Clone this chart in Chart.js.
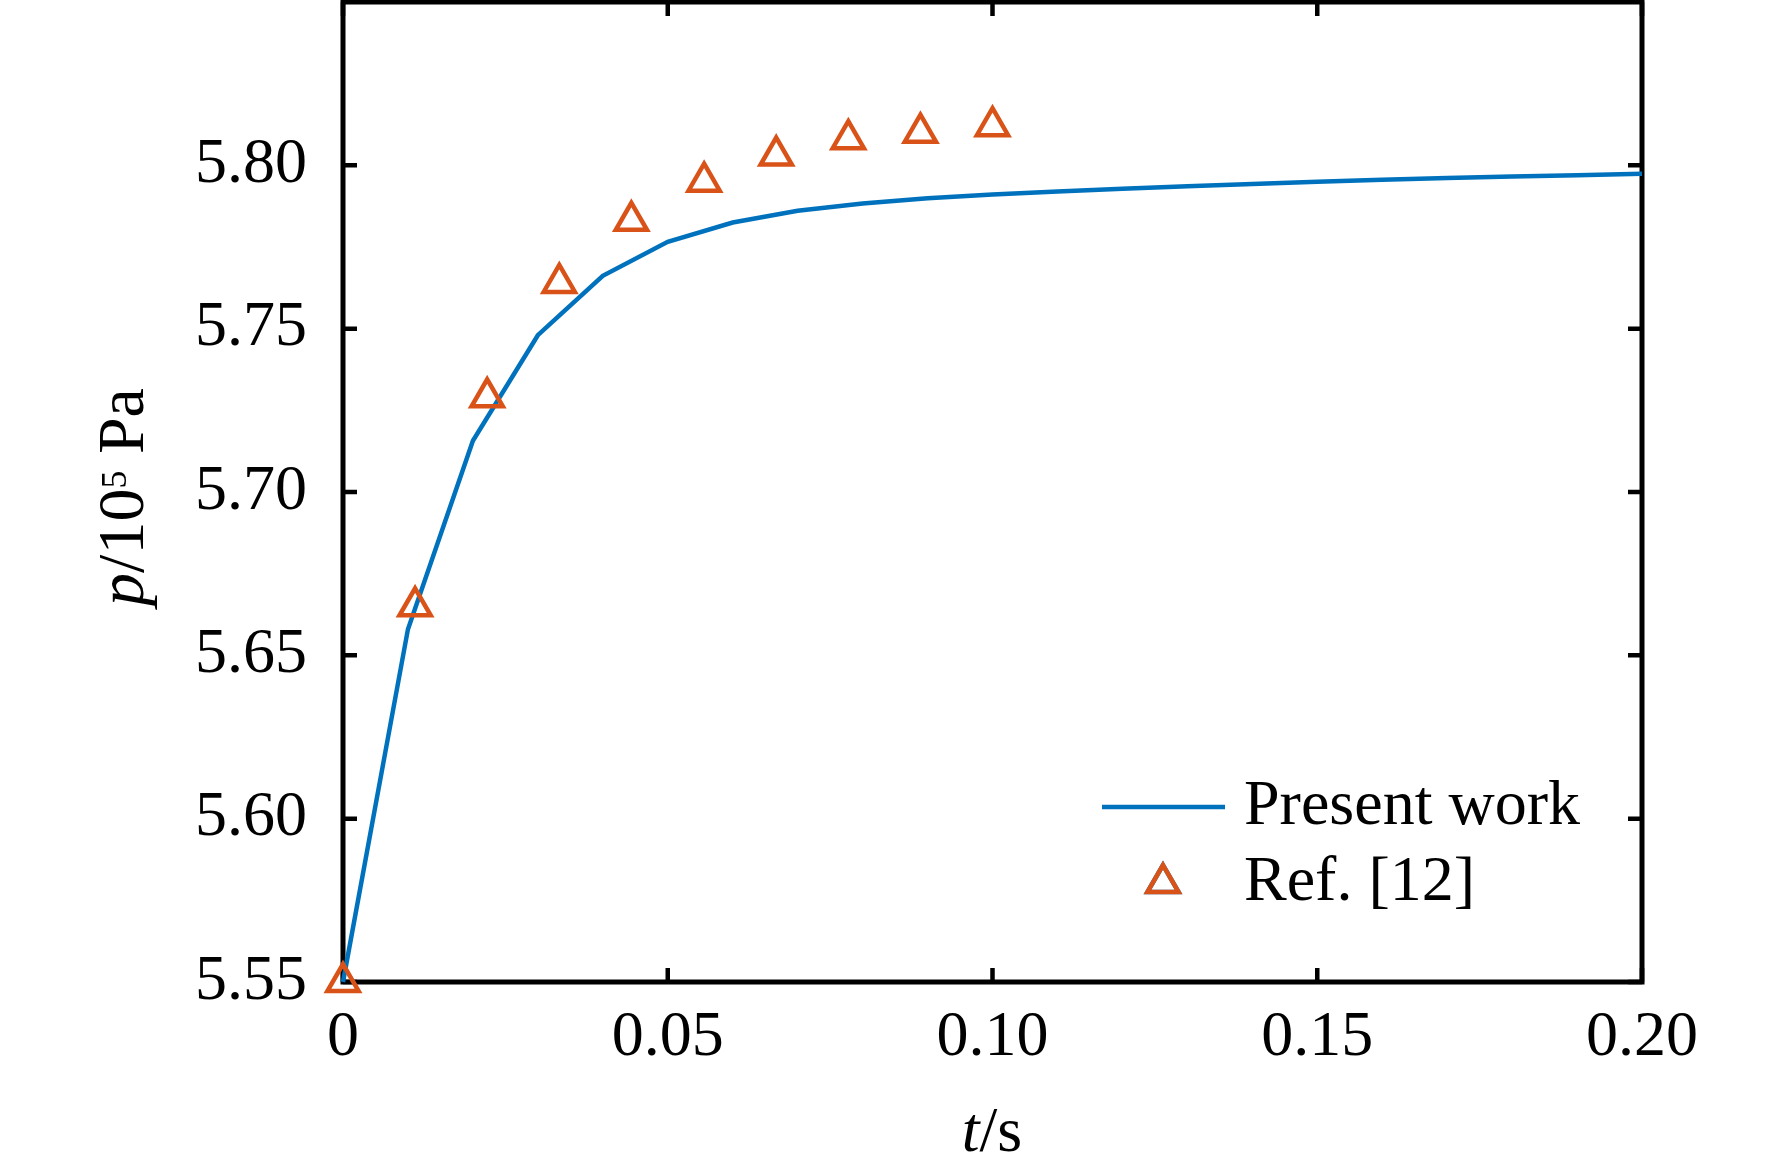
<!DOCTYPE html>
<html><head><meta charset="utf-8">
<script src="https://cdn.jsdelivr.net/npm/chart.js@4.4.0/dist/chart.umd.min.js"></script>
<style>html,body{margin:0;padding:0;background:#fff;overflow:hidden}</style>
</head><body>
<canvas id="c" width="1772" height="1171" style="width:1772px;height:1171px;display:block"></canvas>
<script>
// ---- data ----
const tPresent = [0, 0.01, 0.02, 0.03, 0.04, 0.05, 0.06, 0.07, 0.08, 0.09, 0.10,
                  0.11, 0.12, 0.13, 0.14, 0.15, 0.16, 0.17, 0.18, 0.19, 0.20];
const pPresent = [5.550, 5.658, 5.7157, 5.748, 5.7662, 5.7766, 5.7825, 5.7861, 5.7883, 5.7899, 5.7911,
                  5.7920, 5.7928, 5.7936, 5.7943, 5.7950, 5.7956, 5.7961, 5.7966, 5.7970, 5.7974];
const tRef = [0, 0.0111, 0.0222, 0.0333, 0.0444, 0.0556, 0.0667, 0.0778, 0.0889, 0.1000];
const pRef = [5.550, 5.665, 5.729, 5.764, 5.783, 5.795, 5.803, 5.808, 5.810, 5.812];
const xTickValues = [0, 0.05, 0.10, 0.15, 0.20];
const xTickLabels = ['0', '0.05', '0.10', '0.15', '0.20'];
const yTickValues = [5.55, 5.60, 5.65, 5.70, 5.75, 5.80];
const yTickLabels = ['5.55', '5.60', '5.65', '5.70', '5.75', '5.80'];
const seriesNames = ['Present work', 'Ref. [12]'];

const FONT = '"Liberation Serif", "Times New Roman", serif';
const BLUE = '#0072BD';
const ORANGE = '#D95319';

const framePlugin = {
  id: 'frame',
  beforeDatasetsDraw(chart) {
    const ctx = chart.ctx, a = chart.chartArea;
    const xs = chart.scales.x, ys = chart.scales.y;
    ctx.save();
    ctx.strokeStyle = '#000';
    ctx.lineWidth = 5;
    ctx.strokeRect(a.left, a.top, a.right - a.left, a.bottom - a.top);
    ctx.lineWidth = 4.5;
    const TL = 14;
    ctx.beginPath();
    xTickValues.forEach(v => {
      const px = xs.getPixelForValue(v);
      ctx.moveTo(px, a.bottom); ctx.lineTo(px, a.bottom - TL);
      ctx.moveTo(px, a.top); ctx.lineTo(px, a.top + TL);
    });
    yTickValues.forEach(v => {
      const py = ys.getPixelForValue(v);
      ctx.moveTo(a.left, py); ctx.lineTo(a.left + TL, py);
      ctx.moveTo(a.right, py); ctx.lineTo(a.right - TL, py);
    });
    ctx.stroke();
    ctx.restore();
  },
  afterDraw(chart) {
    const ctx = chart.ctx;
    ctx.save();
    ctx.fillStyle = '#000';
    ctx.textBaseline = 'alphabetic';
    // x title: t/s
    const fx = 64;
    const seg1 = [{t: 't', f: 'italic ' + fx + 'px ' + FONT}, {t: '/s', f: fx + 'px ' + FONT}];
    let w = 0;
    seg1.forEach(s => { ctx.font = s.f; s.w = ctx.measureText(s.t).width; w += s.w; });
    let x = 992 - w / 2;
    seg1.forEach(s => { ctx.font = s.f; ctx.fillText(s.t, x, 1151); x += s.w; });
    // y title: p/10^5 Pa (rotated)
    const fy = 66;
    const seg2 = [
      {t: 'p', f: 'italic ' + fy + 'px ' + FONT, dy: 0},
      {t: '/10', f: fy + 'px ' + FONT, dy: 0},
      {t: '5', f: '36px ' + FONT, dy: -17},
      {t: ' Pa', f: fy + 'px ' + FONT, dy: 0}
    ];
    w = 0;
    seg2.forEach(s => { ctx.font = s.f; s.w = ctx.measureText(s.t).width; w += s.w; });
    ctx.translate(143, 497);
    ctx.rotate(-Math.PI / 2);
    x = -w / 2;
    seg2.forEach(s => { ctx.font = s.f; ctx.fillText(s.t, x, s.dy); x += s.w; });
    ctx.restore();

    // legend
    ctx.save();
    const dsLine = chart.data.datasets[1], dsRef = chart.data.datasets[0];
    ctx.strokeStyle = dsLine.borderColor;
    ctx.lineWidth = dsLine.borderWidth;
    ctx.beginPath(); ctx.moveTo(1102, 807); ctx.lineTo(1225, 807); ctx.stroke();
    Chart.helpers.drawPoint(ctx, {pointStyle: 'triangle', radius: dsRef.pointRadius, borderWidth: dsRef.borderWidth, rotation: 0}, 1163, 883);
    ctx.strokeStyle = dsRef.borderColor;
    ctx.lineWidth = dsRef.borderWidth;
    ctx.stroke();
    ctx.fillStyle = '#000';
    ctx.font = '64px ' + FONT;
    ctx.textBaseline = 'alphabetic';
    ctx.fillText(seriesNames[0], 1244, 824);
    ctx.fillText(seriesNames[1], 1244, 900);
    ctx.restore();
  }
};

new Chart(document.getElementById('c'), {
  type: 'scatter',
  data: {
    datasets: [
      {
        label: seriesNames[1],
        data: tRef.map((t, i) => ({x: t, y: pRef[i]})),
        showLine: false,
        pointStyle: 'triangle',
        pointRadius: 18,
        pointHoverRadius: 18,
        borderWidth: 4.5,
        borderColor: ORANGE,
        backgroundColor: 'rgba(0,0,0,0)',
        clip: false,
        order: 0
      },
      {
        label: seriesNames[0],
        data: tPresent.map((t, i) => ({x: t, y: pPresent[i]})),
        showLine: true,
        pointRadius: 0,
        borderWidth: 4.5,
        borderColor: BLUE,
        backgroundColor: BLUE,
        tension: 0,
        clip: false,
        order: 1
      }
    ]
  },
  options: {
    responsive: false,
    devicePixelRatio: 1,
    animation: false,
    events: [],
    layout: {autoPadding: false, padding: {left: 0, right: 130, top: 2, bottom: 0}},
    plugins: {legend: {display: false}, tooltip: {enabled: false}},
    scales: {
      x: {
        type: 'linear', min: 0, max: 0.2,
        grid: {display: false}, border: {display: false},
        afterBuildTicks: s => { s.ticks = xTickValues.map(v => ({value: v})); },
        afterFit: s => { s.height = 189; s.paddingLeft = 0; s.paddingRight = 0; },
        ticks: {
          autoSkip: false, maxRotation: 0, padding: 10, color: '#000',
          font: {family: FONT, size: 64},
          callback: (v, i) => xTickLabels[i]
        }
      },
      y: {
        type: 'linear', min: 5.55, max: 5.85,
        grid: {display: false}, border: {display: false},
        afterBuildTicks: s => { s.ticks = yTickValues.map(v => ({value: v})); },
        afterFit: s => { s.width = 343; s.paddingTop = 0; s.paddingBottom = 0; },
        ticks: {
          autoSkip: false, padding: 28, color: '#000',
          font: {family: FONT, size: 64},
          callback: (v, i) => yTickLabels[i]
        }
      }
    }
  },
  plugins: [framePlugin]
});
</script>
</body></html>
